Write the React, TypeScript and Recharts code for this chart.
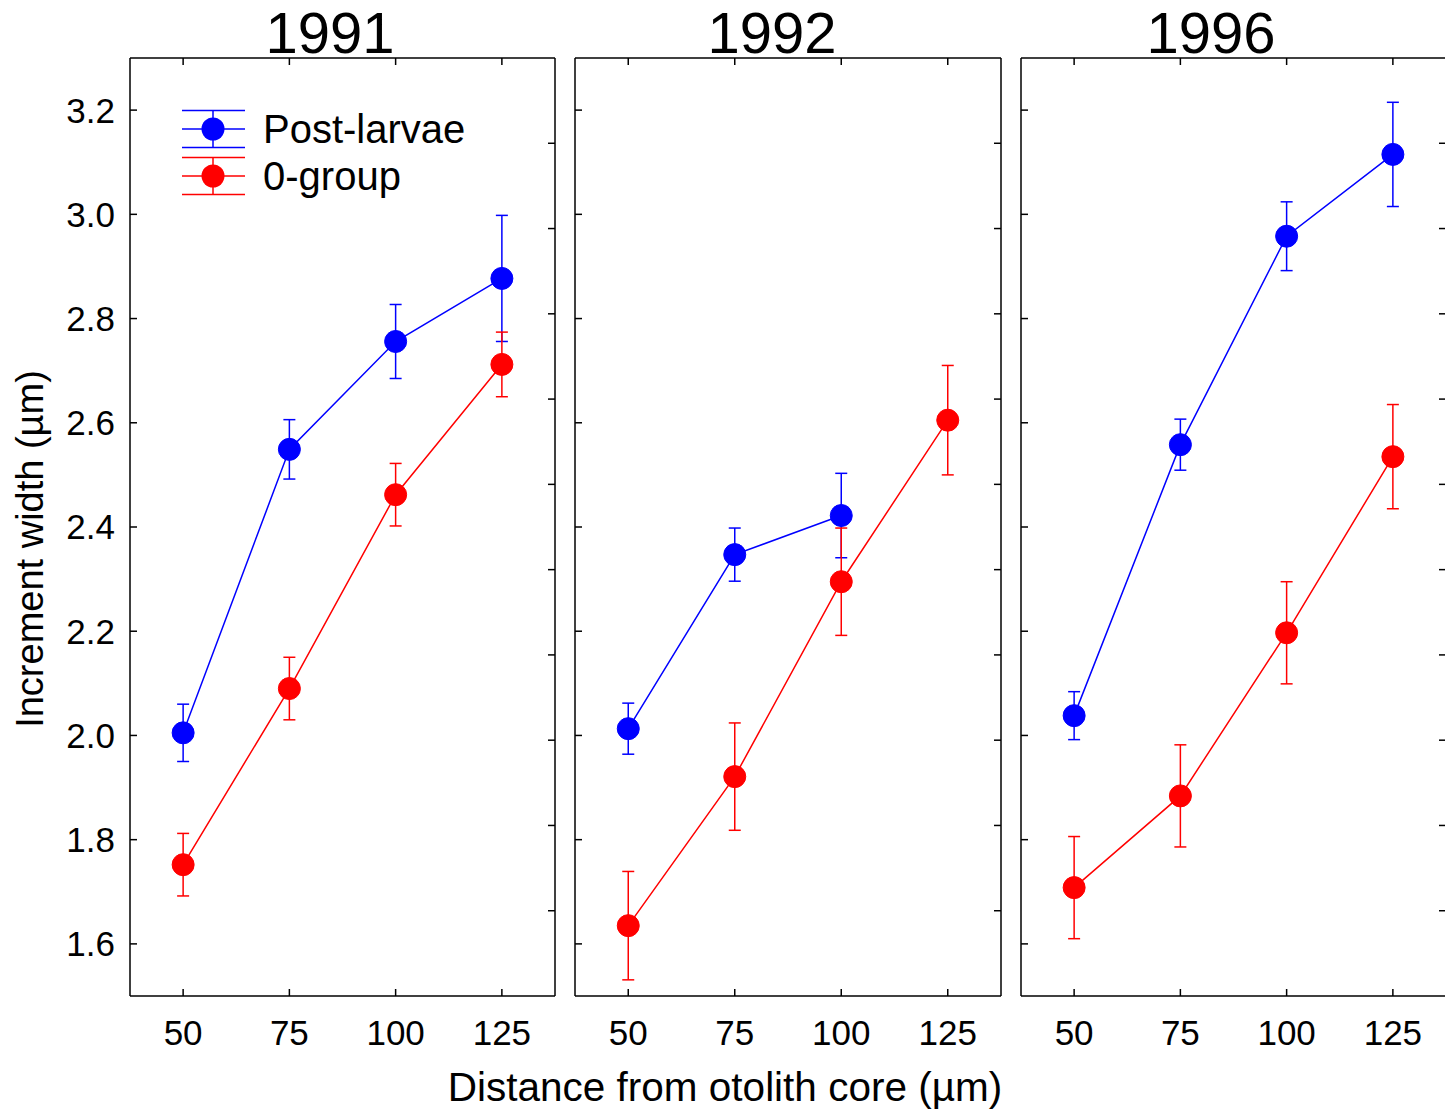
import React from 'react';
import { LineChart, Line, XAxis, YAxis, ErrorBar, Legend } from 'recharts';

// ---------- data ----------
const distances = [50, 75, 100, 125];
const xTicks = [50, 75, 100, 125];
const yTicks = [1.6, 1.8, 2.0, 2.2, 2.4, 2.6, 2.8, 3.0, 3.2];
const rightTicks = [1, 2, 3, 4, 5, 6, 7, 8, 9, 10];
const years = ['1991', '1992', '1996'];
const seriesNames = ['Post-larvae', '0-group'];

const postLarvae1991 = [2.005, 2.549, 2.756, 2.877];
const postLarvaeErr1991 = [0.055, 0.057, 0.071, 0.121];
const zeroGroup1991 = [1.752, 2.09, 2.462, 2.712];
const zeroGroupErr1991 = [0.06, 0.06, 0.06, 0.062];

const postLarvae1992 = [2.013, 2.347, 2.422];
const postLarvaeErr1992 = [0.049, 0.051, 0.081];
const zeroGroup1992 = [1.635, 1.921, 2.295, 2.605];
const zeroGroupErr1992 = [0.104, 0.103, 0.103, 0.105];

const postLarvae1996 = [2.038, 2.558, 2.958, 3.115];
const postLarvaeErr1996 = [0.046, 0.049, 0.066, 0.1];
const zeroGroup1996 = [1.708, 1.884, 2.197, 2.535];
const zeroGroupErr1996 = [0.098, 0.098, 0.098, 0.1];

const BLUE = '#0000ff';
const RED = '#ff0000';
const FONT = '"Liberation Sans", Arial, Helvetica, sans-serif';

function buildData(pl: number[], plErr: number[], og: number[], ogErr: number[]) {
  return distances.map((d, i) => ({
    d,
    pl: pl[i] ?? null,
    plErr: plErr[i] ?? null,
    og: og[i] ?? null,
    ogErr: ogErr[i] ?? null,
  }));
}

const panelData = [
  buildData(postLarvae1991, postLarvaeErr1991, zeroGroup1991, zeroGroupErr1991),
  buildData(postLarvae1992, postLarvaeErr1992, zeroGroup1992, zeroGroupErr1992),
  buildData(postLarvae1996, postLarvaeErr1996, zeroGroup1996, zeroGroupErr1996),
];

const panelLayout = [
  { left: 0, width: 565, yAxisWidth: 130, labels: true, legend: true, titleX: 330 },
  { left: 565, width: 446, yAxisWidth: 10, labels: false, legend: false, titleX: 772 },
  { left: 1011, width: 445, yAxisWidth: 10, labels: false, legend: false, titleX: 1211 },
];

const axisStroke = { stroke: '#000', strokeWidth: 1.5 };
const tickStyle = { fill: '#000', fontSize: 35, fontFamily: FONT };
const empty = () => '';

const renderLegend = (props: any) => {
  const raw = props.payload || [];
  const payload = seriesNames
    .map((n) => raw.find((e: any) => e.value === n))
    .filter(Boolean);
  return (
    <svg width={320} height={110} style={{ display: 'block', overflow: 'visible' }}>
      {payload.map((e: any, i: number) => {
        const cy = 29 + i * 47;
        const c = e.color;
        return (
          <g key={i}>
            <line x1={7} x2={70} y1={cy - 18.5} y2={cy - 18.5} stroke={c} strokeWidth={1.5} />
            <line x1={7} x2={70} y1={cy} y2={cy} stroke={c} strokeWidth={1.5} />
            <line x1={7} x2={70} y1={cy + 18.5} y2={cy + 18.5} stroke={c} strokeWidth={1.5} />
            <line x1={38} x2={38} y1={cy - 18.5} y2={cy + 18.5} stroke={c} strokeWidth={1.5} />
            <circle cx={38} cy={cy} r={11.5} fill={c} />
            <text x={88} y={cy + 14} fontSize={40} fontFamily={FONT} fill="#000">
              {e.value}
            </text>
          </g>
        );
      })}
    </svg>
  );
};

function Panel({ idx }: { idx: number }) {
  const lay = panelLayout[idx];
  const data = panelData[idx];
  return (
    <div style={{ position: 'absolute', left: lay.left, top: 0 }}>
      <LineChart
        width={lay.width}
        height={1109}
        data={data}
        margin={{ top: 58, right: 10, bottom: 0, left: 0 }}
      >
        <XAxis
          xAxisId="x"
          dataKey="d"
          type="number"
          domain={[37.5, 137.5]}
          allowDataOverflow
          ticks={xTicks}
          height={113}
          tickLine={false}
          tickSize={0}
          tickMargin={24}
          tick={tickStyle}
          axisLine={axisStroke}
        />
        <XAxis
          xAxisId="xb"
          dataKey="d"
          type="number"
          orientation="bottom"
          mirror
          domain={[37.5, 137.5]}
          allowDataOverflow
          ticks={xTicks}
          height={1}
          tickSize={7}
          tickLine={axisStroke}
          tickFormatter={empty}
          axisLine={false}
        />
        <XAxis
          xAxisId="xt"
          dataKey="d"
          type="number"
          orientation="top"
          mirror
          domain={[37.5, 137.5]}
          allowDataOverflow
          ticks={xTicks}
          height={1}
          tickSize={7}
          tickLine={axisStroke}
          tickFormatter={empty}
          axisLine={axisStroke}
        />
        <YAxis
          yAxisId="y"
          type="number"
          domain={[1.5, 3.3]}
          allowDataOverflow
          ticks={yTicks}
          width={lay.yAxisWidth}
          tickLine={false}
          tickSize={0}
          tickMargin={15}
          tick={lay.labels ? tickStyle : false}
          tickFormatter={(v: number) => v.toFixed(1)}
          axisLine={axisStroke}
        />
        <YAxis
          yAxisId="yi"
          type="number"
          orientation="left"
          mirror
          domain={[1.5, 3.3]}
          allowDataOverflow
          ticks={yTicks}
          width={1}
          tickSize={7}
          tickLine={axisStroke}
          tickFormatter={empty}
          axisLine={false}
        />
        <YAxis
          yAxisId="yr"
          type="number"
          orientation="right"
          mirror
          domain={[0, 11]}
          allowDataOverflow
          ticks={rightTicks}
          width={1}
          tickSize={7}
          tickLine={axisStroke}
          tickFormatter={empty}
          axisLine={axisStroke}
        />
        <Line
          xAxisId="x"
          yAxisId="y"
          dataKey="pl"
          name={seriesNames[0]}
          stroke={BLUE}
          strokeWidth={1.5}
          dot={{ r: 11, fill: BLUE, stroke: BLUE, strokeWidth: 1 }}
          activeDot={false}
          isAnimationActive={false}
        >
          <ErrorBar dataKey="plErr" direction="y" width={6} stroke={BLUE} strokeWidth={1.5} isAnimationActive={false} />
        </Line>
        <Line
          xAxisId="x"
          yAxisId="y"
          dataKey="og"
          name={seriesNames[1]}
          stroke={RED}
          strokeWidth={1.5}
          dot={{ r: 11, fill: RED, stroke: RED, strokeWidth: 1 }}
          activeDot={false}
          isAnimationActive={false}
        >
          <ErrorBar dataKey="ogErr" direction="y" width={6} stroke={RED} strokeWidth={1.5} isAnimationActive={false} />
        </Line>
        {lay.legend && (
          <Legend
            layout="vertical"
            align="center"
            verticalAlign="middle"
            content={renderLegend}
            wrapperStyle={{ left: 175, top: 100, width: 320, height: 110 }}
          />
        )}
      </LineChart>
    </div>
  );
}

export default function App() {
  return (
    <div
      style={{
        position: 'absolute',
        left: 0,
        top: 0,
        width: 1445,
        height: 1109,
        overflow: 'hidden',
        background: '#fff',
        fontFamily: FONT,
      }}
    >
      {panelLayout.map((_, i) => (
        <Panel key={i} idx={i} />
      ))}
      <svg
        width={1445}
        height={1109}
        style={{ position: 'absolute', left: 0, top: 0, pointerEvents: 'none' }}
      >
        {years.map((y, i) => (
          <text key={y} x={panelLayout[i].titleX} y={53} textAnchor="middle" fontSize={58} fontFamily={FONT} fill="#000">
            {y}
          </text>
        ))}
        <text
          transform="translate(43, 549) rotate(-90)"
          textAnchor="middle"
          fontSize={38}
          fontFamily={FONT}
          fill="#000"
        >
          Increment width (µm)
        </text>
        <text x={725} y={1101} textAnchor="middle" fontSize={40.5} fontFamily={FONT} fill="#000">
          Distance from otolith core (µm)
        </text>
      </svg>
    </div>
  );
}
